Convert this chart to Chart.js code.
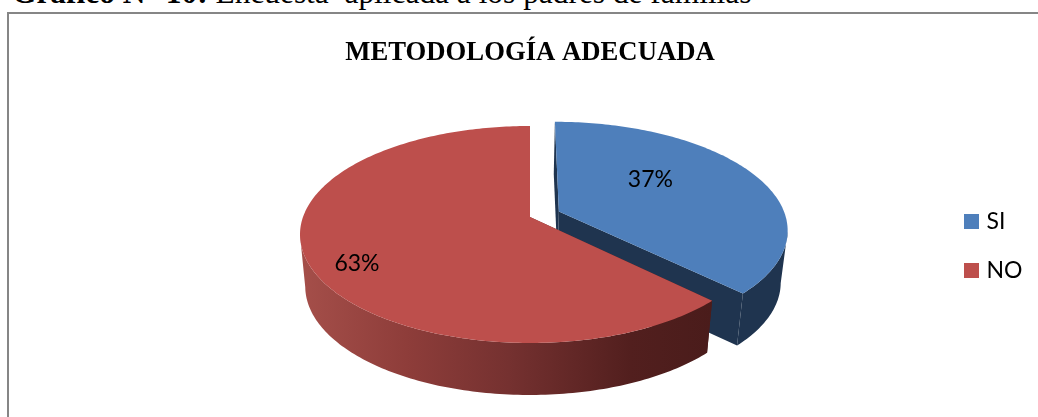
<!DOCTYPE html>
<html><head><meta charset="utf-8">
<script src="https://cdn.jsdelivr.net/npm/chart.js@4"></script>
<style>
html,body{margin:0;padding:0;background:#fff;overflow:hidden;width:1038px;height:417px}
#cap{position:absolute;left:12px;top:-21px;font:31.4px "Liberation Serif",serif;color:#000;white-space:pre;line-height:28px}
#frame{position:absolute;left:7px;top:12px;width:1040px;height:420px;border:2px solid #868686;box-sizing:border-box}
canvas{position:absolute;left:0;top:0}
</style></head><body>
<div id="cap"><b>Gráfico N° 10:</b> Encuesta  aplicada a los padres de familias</div>
<div id="frame"></div>
<canvas id="c" width="1038" height="417"></canvas>
<script>
const categories = ["SI","NO"];
const values = [37.4,62.6];
const colors = ["#4E7FBB","#BD4F4C"];
const explode = [0.139,0];
const chartTitle = "METODOLOGÍA ADECUADA";

// camera of the 3D pie
const CAM = {cx:530, cy:217, ax:227, ay:105.7, k:0.161, depth:52, vx:510, shrink:0.025};
const LABEL = {r:[0.55,0.82], turn:[-15,-7]};
const WALLS = {blue:"#1F344F"};

function project(wx,wy){
  const w = 1 - CAM.k*wy;
  return {x:CAM.cx + CAM.ax*wx/w, y:CAM.cy + CAM.ay*wy/w};
}
function lower(p){ return {x:p.x-(p.x-CAM.vx)*CAM.shrink, y:p.y+CAM.depth}; }

const pie3d = {
  id:'pie3d',
  afterLayout(chart){
    const lg = chart.legend, pad = chart.options.plugins.legend.labels.padding;
    const w = lg.right-lg.left, h = lg.bottom-lg.top;
    lg.left = 968-pad; lg.right = lg.left+w;
    lg.top = 246-h/2; lg.bottom = lg.top+h;
  },
  beforeDatasetDraw(chart,args){
    const ctx = chart.ctx, arcs = chart.getDatasetMeta(args.index).data;
    const shapes = arcs.map((arc,i)=>{
      // Chart.js angles start at 3 o'clock; element angles come from the data
      const a0 = arc.startAngle, a1 = arc.endAngle;
      const mid = (a0+a1)/2;
      const ox = explode[i]*Math.cos(mid), oy = explode[i]*Math.sin(mid);
      const rim = [], n = Math.max(8,Math.ceil((a1-a0)*180/Math.PI));
      for(let s=0;s<=n;s++){ const a=a0+(a1-a0)*s/n; rim.push(project(ox+Math.cos(a),oy+Math.sin(a))); }
      return {rim, apex:project(ox,oy), ox, oy, mid, color:colors[i]};
    });
    const path = pts=>{ ctx.beginPath(); pts.forEach((p,j)=>j?ctx.lineTo(p.x,p.y):ctx.moveTo(p.x,p.y)); ctx.closePath(); };
    const walls = (s,style)=>{
      ctx.fillStyle = style;
      // only the part of the rim that moves leftwards on screen faces the viewer
      const front = [];
      s.rim.forEach((p,j)=>{
        const prev = s.rim[j-1], next = s.rim[j+1];
        if((next && next.x<p.x) || (prev && p.x<prev.x)) front.push(p);
      });
      path([...front,...front.map(lower).reverse()]); ctx.fill();
      const f = s.rim[0], l = s.rim[s.rim.length-1];
      path([s.apex,f,lower(f),lower(s.apex)]); ctx.fill();
      path([s.apex,l,lower(l),lower(s.apex)]); ctx.fill();
    };
    const top = s=>{ ctx.fillStyle=s.color; path([s.apex,...s.rim]); ctx.fill(); };
    const g = ctx.createLinearGradient(305,0,712,0);
    g.addColorStop(0,"#A44E49"); g.addColorStop(.25,"#8E3D3A"); g.addColorStop(.5,"#753130"); g.addColorStop(.8,"#521F1E"); g.addColorStop(1,"#4A1C1B");
    ctx.save();
    walls(shapes[0],WALLS.blue); top(shapes[0]);
    walls(shapes[1],g); top(shapes[1]);
    // data labels
    ctx.fillStyle="#000"; ctx.font='23px Lato'; ctx.textAlign='center'; ctx.textBaseline='middle';
    shapes.forEach((s,i)=>{
      const a = s.mid + LABEL.turn[i]*Math.PI/180;
      const p = project(s.ox+LABEL.r[i]*Math.cos(a), s.oy+LABEL.r[i]*Math.sin(a));
      ctx.fillText(Math.round(values[i])+"%",p.x,p.y+1);
    });
    ctx.restore();
    return false;
  }
};

new Chart(document.getElementById('c'),{
  type:'pie',
  data:{labels:categories,datasets:[{data:values,backgroundColor:colors,borderWidth:0}]},
  plugins:[pie3d],
  options:{
    responsive:false,animation:false,
    layout:{padding:{left:22}},
    plugins:{
      tooltip:{enabled:false},
      title:{display:true,text:chartTitle,color:'#000',font:{family:'"Liberation Serif"',size:26.7,weight:'bold'},padding:{top:37,bottom:10}},
      legend:{position:'right',labels:{usePointStyle:true,pointStyle:'rect',boxWidth:7,boxHeight:15,padding:26,color:'#000',font:{family:'Lato',size:23}}}
    }
  }
});
</script>
</body></html>
